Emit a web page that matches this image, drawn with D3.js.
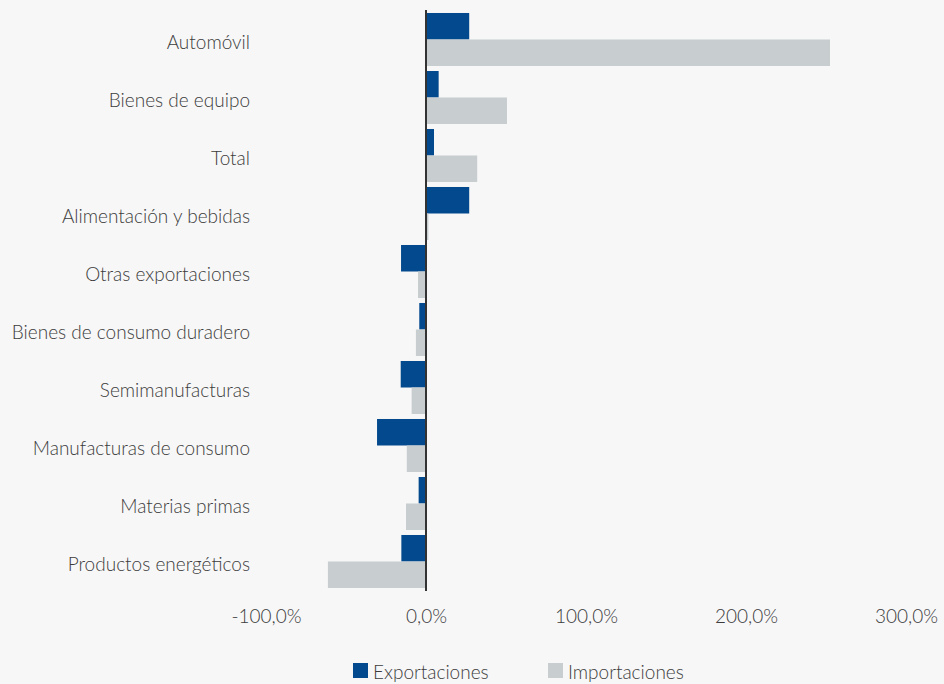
<!DOCTYPE html>
<html>
<head>
<meta charset="utf-8">
<script src="https://cdn.jsdelivr.net/npm/d3@7"></script>
<style>
  body { margin: 0; background: #f7f7f7; }
  svg { display: block; }
  text { font-family: Lato, "Open Sans", sans-serif; font-weight: 300; fill: #3c3c3c; }
</style>
</head>
<body>
<div id="chart"></div>
<script>
const categories = ["Automóvil", "Bienes de equipo", "Total", "Alimentación y bebidas",
  "Otras exportaciones", "Bienes de consumo duradero", "Semimanufacturas",
  "Manufacturas de consumo", "Materias primas", "Productos energéticos"];
const exportaciones = [27.0, 7.9, 5.0, 27.0, -15.6, -4.2, -15.8, -30.6, -4.6, -15.4];
const importaciones = [252.5, 50.6, 32.0, 1.5, -5.0, -6.3, -9.0, -12.0, -12.5, -61.3];
const ticks = [-100, 0, 100, 200, 300];
const seriesNames = ["Exportaciones", "Importaciones"];
const colors = ["#03498d", "#c8cdd0"];

const W = 944, H = 684;
const svg = d3.select("#chart").append("svg").attr("width", W).attr("height", H);
svg.append("rect").attr("width", W).attr("height", H).attr("fill", "#f7f7f7");

const x = d3.scaleLinear().domain([-100, 300]).range([266, 906]);
const y = d3.scaleBand().domain(categories).range([10.5, 590.5])
  .paddingInner(0.086).paddingOuter(0.043);
const ys = d3.scaleBand().domain(seriesNames).range([0, y.bandwidth()]);

const rows = categories.map((c, i) => ({cat: c, vals: [exportaciones[i], importaciones[i]]}));

const g = svg.selectAll(".row").data(rows).enter().append("g")
  .attr("transform", d => "translate(0," + y(d.cat) + ")");

g.selectAll("rect").data(d => d.vals.map((v, j) => ({v: v, s: seriesNames[j], j: j})))
  .enter().append("rect")
  .attr("x", d => x(Math.min(0, d.v)))
  .attr("width", d => Math.abs(x(d.v) - x(0)))
  .attr("y", d => ys(d.s))
  .attr("height", ys.bandwidth())
  .attr("fill", d => colors[d.j]);

// category labels
svg.append("g").selectAll("text").data(categories).enter().append("text")
  .attr("x", 250)
  .attr("y", d => y(d) + y.bandwidth() / 2 + 2)
  .attr("text-anchor", "end")
  .attr("dominant-baseline", "central")
  .style("font-size", "19px")
  .text(d => d);

// zero line
svg.append("line")
  .attr("x1", x(0)).attr("x2", x(0))
  .attr("y1", 10).attr("y2", 591)
  .attr("stroke", "#333").attr("stroke-width", 2);

// x axis
const axis = svg.append("g").attr("transform", "translate(0,609)")
  .call(d3.axisBottom(x).tickValues(ticks).tickSize(0)
    .tickFormat(d => d3.format(".1f")(d).replace("−", "-").replace(".", ",") + "%"));
axis.select(".domain").remove();
axis.selectAll("text").attr("dy", "0.6em").style("font-size", "19px")
  .style("font-family", null).attr("fill", null);

// legend
const legend = svg.append("g");
const lx = [353, 548];
seriesNames.forEach((s, i) => {
  legend.append("rect").attr("x", lx[i]).attr("y", 663).attr("width", 15).attr("height", 15)
    .attr("fill", colors[i]);
  legend.append("text").attr("x", lx[i] + 20).attr("y", 671)
    .attr("dominant-baseline", "central").style("font-size", "19px").text(s);
});
</script>
</body>
</html>
